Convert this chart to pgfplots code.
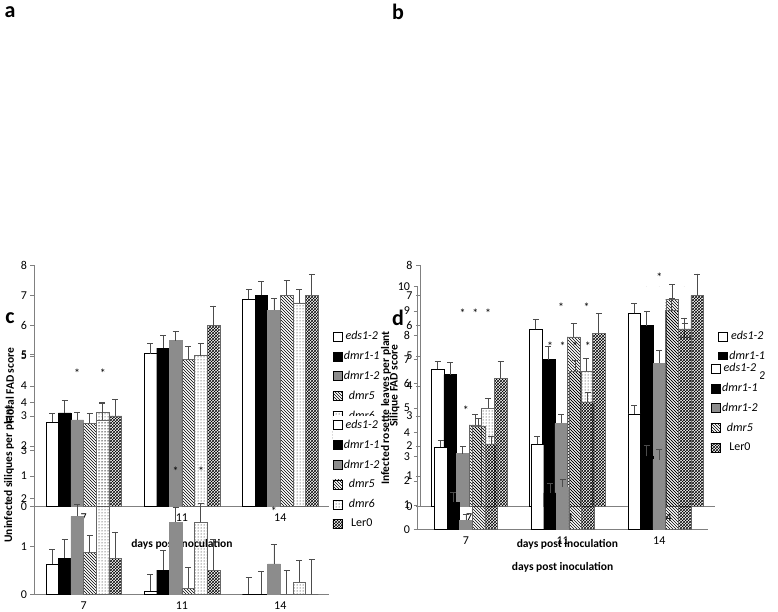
\documentclass[border=0pt]{standalone}
\usepackage{pgfplots}
\pgfplotsset{compat=1.18}
\usepackage{fontspec}
\setmainfont{Carlito}
\usetikzlibrary{patterns}
\definecolor{mg}{HTML}{8C8C8C}
\pgfplotsset{
 panel/.style={scale only axis, axis lines=left, axis line style={gray,-}, ybar=0pt, bar width=12.6pt,
  xmin=-0.5,xmax=2.5, ymin=0, xtick={0,1,2}, xticklabels={7,11,14}, x tick style={draw=none},
  extra x ticks={0.5,1.5,2.5}, extra x tick labels={}, extra x tick style={major tick length=5pt, tick style={draw=gray}, tick align=outside},
  ytick style={draw=gray}, tick align=outside, major tick length=4pt,
  /pgf/number format/assume math mode=true, tick label style={font=\fontsize{12}{12}\selectfont},
  label style={font=\bfseries\fontsize{11.5}{12}\selectfont},
  xlabel={days post inoculation}, xlabel style={yshift=-2pt},
  legend style={at={(1.01,0.5)}, anchor=west, draw=none, font=\fontsize{12}{12}\selectfont, row sep=6pt, inner xsep=0pt},
  legend image code/.code={\draw[#1,draw=black] (0pt,-4.5pt) rectangle (9pt,4.5pt);},
  error bars/y dir=plus, error bars/y explicit, error bars/error bar style={draw=black!70, line width=0.8pt},
  error bars/error mark options={rotate=90, mark size=3pt, draw=black!70},
 },
 s1/.style={fill=white, draw=black},
 s2/.style={fill=black, draw=black},
 s3/.style={fill=mg, draw=mg},
 s4/.style={pattern=north west lines, draw=black!60},
 s5/.style={pattern=dots, draw=black!60},
 s6/.style={pattern=crosshatch, draw=black!60},
}
\newcommand{\st}[2]{\node[font=\fontsize{12}{12}\selectfont] at (axis cs:#1,#2) {*};}
\begin{document}
\begin{tikzpicture}[x=1pt,y=1pt]
\path[use as bounding box] (0,0) rectangle (778,612);
\node[font=\bfseries\fontsize{22}{22}\selectfont] at (10,600) {a};
\node[font=\bfseries\fontsize{22}{22}\selectfont] at (398,600) {b};
\node[font=\bfseries\fontsize{22}{22}\selectfont] at (10,294) {c};
\node[font=\bfseries\fontsize{22}{22}\selectfont] at (398,294) {d};
% a
\begin{axis}[panel, at={(35,351)}, anchor=south west, width=295pt, height=241pt, ymax=8, ylabel={Floral FAD score}]
\addplot[s1] coordinates {(0,2.8)+-(0,0.3) (1,5.07)+-(0,0.33) (2,6.87)+-(0,0.35)}; \addlegendentry{\textit{eds1-2}}
\addplot[s2] coordinates {(0,3.1)+-(0,0.42) (1,5.25)+-(0,0.42) (2,7.0)+-(0,0.47)}; \addlegendentry{\textit{dmr1-1}}
\addplot[s3] coordinates {(0,2.87)+-(0,0.25) (1,5.5)+-(0,0.3) (2,6.5)+-(0,0.42)}; \addlegendentry{\textit{dmr1-2}}
\addplot[s4] coordinates {(0,2.75)+-(0,0.33) (1,4.87)+-(0,0.45) (2,7.0)+-(0,0.5)}; \addlegendentry{\textit{dmr5}}
\addplot[s5] coordinates {(0,3.12)+-(0,0.35) (1,5.0)+-(0,0.4) (2,6.75)+-(0,0.45)}; \addlegendentry{\textit{dmr6}}
\addplot[s6] coordinates {(0,3.0)+-(0,0.55) (1,6.0)+-(0,0.65) (2,7.0)+-(0,0.72)}; \addlegendentry{Ler0}
\end{axis}
% b
\begin{axis}[panel, at={(427,351)}, anchor=south west, width=295pt, height=241pt, ymax=8, ylabel={Silique FAD score}]
\addplot[s1] coordinates {(0,4.55)+-(0,0.28) (1,5.87)+-(0,0.33) (2,6.4)+-(0,0.35)}; \addlegendentry{\textit{eds1-2}}
\addplot[s2] coordinates {(0,4.37)+-(0,0.4) (1,4.87)+-(0,0.43) (2,6.0)+-(0,0.47)}; \addlegendentry{\textit{dmr1-1}}
\addplot[s3] coordinates {(0,1.75)+-(0,0.25) (1,2.75)+-(0,0.32) (2,4.75)+-(0,0.42)}; \addlegendentry{\textit{dmr1-2}}
\addplot[s4] coordinates {(0,2.7)+-(0,0.35) (1,5.62)+-(0,0.45) (2,6.87)+-(0,0.5)}; \addlegendentry{\textit{dmr5}}
\addplot[s5] coordinates {(0,3.25)+-(0,0.35) (1,4.5)+-(0,0.42) (2,5.62)+-(0,0.45)}; \addlegendentry{\textit{dmr6}}
\addplot[s6] coordinates {(0,4.25)+-(0,0.55) (1,5.75)+-(0,0.65) (2,7.0)+-(0,0.72)}; \addlegendentry{Ler0}
\st{-0.065}{6.4}\st{0.065}{6.4}\st{0.195}{6.4}
\st{0.935}{6.6}\st{1.195}{6.6}\st{1.935}{7.6}
\end{axis}
% c
\begin{axis}[panel, at={(35,37)}, anchor=south west, width=295pt, height=240pt, ymax=5, ylabel={Uninfected siliques per plant}]
\addplot[s1] coordinates {(0,0.63)+-(0,0.3) (1,0.07)+-(0,0.35) (2,0)+-(0,0.35)}; \addlegendentry{\textit{eds1-2}}
\addplot[s2] coordinates {(0,0.75)+-(0,0.4) (1,0.5)+-(0,0.42) (2,0)+-(0,0.47)}; \addlegendentry{\textit{dmr1-1}}
\addplot[s3] coordinates {(0,1.62)+-(0,0.26) (1,1.5)+-(0,0.32) (2,0.63)+-(0,0.42)}; \addlegendentry{\textit{dmr1-2}}
\addplot[s4] coordinates {(0,0.87)+-(0,0.35) (1,0.12)+-(0,0.45) (2,0)+-(0,0.5)}; \addlegendentry{\textit{dmr5}}
\addplot[s5] coordinates {(0,3.62)+-(0,0.35) (1,1.5)+-(0,0.4) (2,0.25)+-(0,0.45)}; \addlegendentry{\textit{dmr6}}
\addplot[s6] coordinates {(0,0.75)+-(0,0.55) (1,0.5)+-(0,0.65) (2,0)+-(0,0.72)}; \addlegendentry{Ler0}
\st{-0.065}{4.6}\st{0.195}{4.6}\st{0.935}{2.57}\st{1.195}{2.57}\st{1.935}{1.73}
\end{axis}
% d
\begin{axis}[panel, at={(432,34)}, anchor=south west, width=290pt, height=243pt, ymax=10, ytick={0,1,...,10}, ylabel={Infected rosette leaves per plant}]
\addplot[s1] coordinates {(0,3.38)+-(0,0.3) (1,3.5)+-(0,0.33) (2,4.75)+-(0,0.35)}; \addlegendentry{\textit{eds1-2}}
\addplot[s2] coordinates {(0,1.12)+-(0,0.42) (1,1.5)+-(0,0.42) (2,3.0)+-(0,0.47)}; \addlegendentry{\textit{dmr1-1}}
\addplot[s3] coordinates {(0,0.37)+-(0,0.25) (1,1.75)+-(0,0.32) (2,2.87)+-(0,0.42)}; \addlegendentry{\textit{dmr1-2}}
\addplot[s4] coordinates {(0,4.25)+-(0,0.33) (1,6.5)+-(0,0.45) (2,9.0)+-(0,0.5)}; \addlegendentry{\textit{dmr5}}
\addplot[s6] coordinates {(0,3.5)+-(0,0.35) (1,5.25)+-(0,0.4) (2,8.25)+-(0,0.45)}; \addlegendentry{Ler0}
\st{-0.13}{4.9}\st{0}{4.9}
\st{0.87}{7.55}\st{1}{7.55}\st{1.13}{7.55}\st{1.26}{7.55}
\st{1.87}{9.95}\st{2}{9.95}\st{2.13}{9.95}\st{2.26}{9.95}
\end{axis}
\end{tikzpicture}
\end{document}
